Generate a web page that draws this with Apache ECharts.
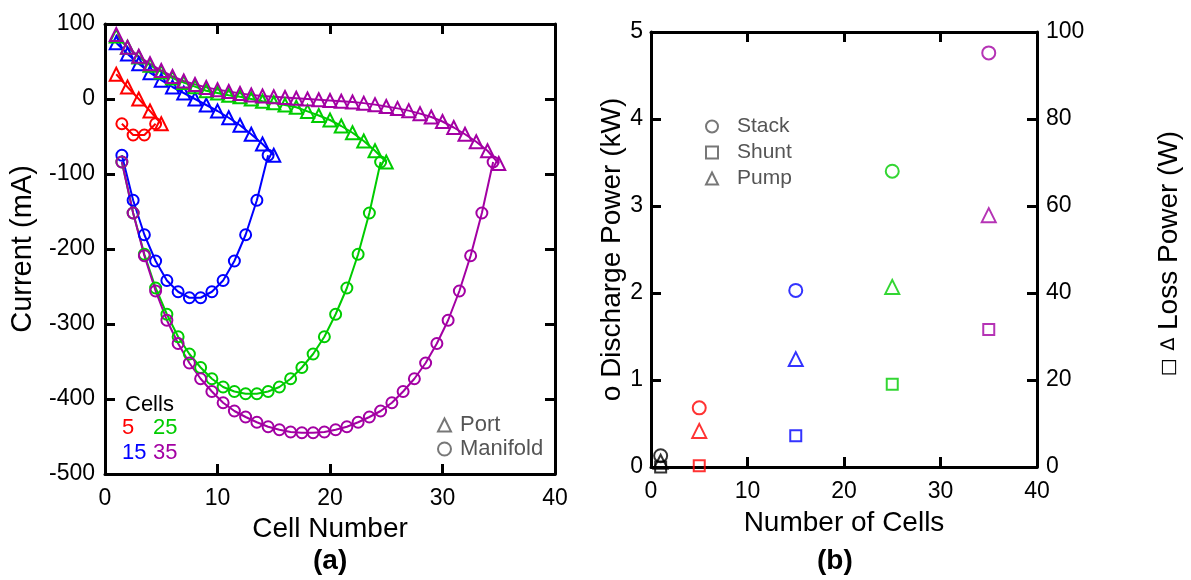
<!DOCTYPE html>
<html>
<head>
<meta charset="utf-8">
<script src="https://cdn.jsdelivr.net/npm/echarts@6/dist/echarts.min.js"></script>
<style>
html,body{margin:0;padding:0;background:#fff;}
#chart{width:1191px;height:580px;}
</style>
</head>
<body>
<div id="chart"></div>
<script>
// ---------- Data: panel (a) currents (mA) ----------
// Port currents at cells 1..N, manifold currents between cells (1.5 .. N-0.5)
const portRed = [33, 16, 0, -16, -33];
const manifoldRed = [-33, -48, -48, -33];
const portBlue = [75, 60, 47, 35, 25, 16, 8, 0, -8, -16, -25, -35, -47, -60, -75];
const manifoldBlue = [-75, -135, -181, -216, -242, -257, -265, -265, -257, -242, -216, -181, -135, -75];
const portGreen = [84, 69, 56, 45, 36, 28, 22, 16.5, 11, 8, 5, 3, 0, -3, -5, -8, -11, -16.5, -22, -28, -36, -45, -56, -69, -84];
const manifoldGreen = [-84, -152, -207, -252, -287, -317, -340, -358, -373, -384, -390, -393, -393, -390, -384, -373, -358, -340, -317, -287, -252, -207, -152, -84];
const portMagenta = [86, 69, 57, 47, 38, 30, 24, 19.5, 15.5, 12.5, 10, 7.5, 5.5, 4, 3, 2, 1, 0, -1, -2, -3, -4, -5.5, -7.5, -10, -12.5, -15.5, -19.5, -24, -30, -38, -47, -57, -69, -86];
const manifoldMagenta = [-84, -152, -209, -256, -295, -326, -352, -373, -390, -405, -416, -424, -431, -437, -441, -444, -445, -445, -444, -441, -437, -431, -424, -416, -405, -390, -373, -352, -326, -295, -256, -209, -152, -84];
const cellCountLabels = ['5', '15', '25', '35'];

// ---------- Data: panel (b) powers ----------
const numberOfCells = [1, 5, 15, 25, 35];
const stackPowerKW = [0.13, 0.68, 2.03, 3.40, 4.76];
const shuntLossW = [0.0, 0.3, 7.2, 19.0, 31.6];
const pumpLossW = [1.2, 8.3, 24.8, 41.4, 57.9];

// ---------- Styles ----------
const FONT = '"Liberation Sans", Arial, Helvetica, sans-serif';
const C_RED = '#ff0000', C_BLUE = '#0000ff', C_GREEN = '#00cc00', C_MAG = '#a300a3', C_BLACK = '#000000';
const pointColors = [C_BLACK, C_RED, C_BLUE, C_GREEN, C_MAG];
const GRAY = '#555555';

const portPts = arr => arr.map((v, i) => [i + 1, v]);
const manPts = arr => arr.map((v, i) => [i + 1.5, v]);

function lineSeries(name, data, color, symbol, size) {
  return {
    name: name, type: 'line', xAxisIndex: 0, yAxisIndex: 0,
    data: data, symbol: symbol, symbolSize: size, showAllSymbol: true,
    lineStyle: { color: color, width: 2 },
    itemStyle: { color: 'rgba(0,0,0,0)', borderColor: color, borderWidth: 2 },
    emphasis: { disabled: true }, animation: false, z: 3
  };
}
function scatterSeries(name, xs, ys, symbol, size, yAxisIndex) {
  return {
    name: name, type: 'scatter', xAxisIndex: 2, yAxisIndex: yAxisIndex,
    symbol: symbol, symbolSize: size,
    data: xs.map((x, i) => ({ value: [x, ys[i]], itemStyle: { color: 'rgba(0,0,0,0)', borderColor: pointColors[i], borderWidth: 2 } })),
    itemStyle: { color: 'rgba(0,0,0,0)', borderColor: GRAY, borderWidth: 2 },
    emphasis: { disabled: true }, animation: false
  };
}
function dummy(name, symbol) {
  return { name: name, type: 'scatter', xAxisIndex: 0, yAxisIndex: 0, data: [], symbol: symbol,
    itemStyle: { color: 'rgba(0,0,0,0)', borderColor: GRAY, borderWidth: 2 } };
}

const axisLine = { show: true, onZero: false, lineStyle: { color: '#000', width: 3 } };
const axisTick = { show: true, inside: true, length: 10, lineStyle: { color: '#000', width: 3 } };
const tickLabel = { color: '#000', fontSize: 23, fontFamily: FONT };
const titleStyle = { color: '#000', fontSize: 28, fontFamily: FONT };

const option = {
  backgroundColor: '#fff',
  animation: false,
  grid: [
    { left: 105, top: 24, width: 450, height: 450 },
    { left: 651, top: 32, width: 386, height: 435 }
  ],
  xAxis: [
    { gridIndex: 0, type: 'value', min: 0, max: 40, interval: 10, position: 'bottom',
      name: 'Cell Number', nameLocation: 'middle', nameGap: 41, nameTextStyle: titleStyle,
      axisLine: axisLine, axisTick: axisTick, axisLabel: Object.assign({ margin: 13 }, tickLabel), splitLine: { show: false } },
    { gridIndex: 0, type: 'value', min: 0, max: 40, interval: 10, position: 'top',
      axisLine: axisLine, axisTick: axisTick, axisLabel: { show: false }, splitLine: { show: false } },
    { gridIndex: 1, type: 'value', min: 0, max: 40, interval: 10, position: 'bottom',
      name: 'Number of Cells', nameLocation: 'middle', nameGap: 42, nameTextStyle: titleStyle,
      axisLine: axisLine, axisTick: axisTick, axisLabel: Object.assign({ margin: 13 }, tickLabel), splitLine: { show: false } },
    { gridIndex: 1, type: 'value', min: 0, max: 40, interval: 10, position: 'top',
      axisLine: axisLine, axisTick: axisTick, axisLabel: { show: false }, splitLine: { show: false } }
  ],
  yAxis: [
    { gridIndex: 0, type: 'value', min: -500, max: 100, interval: 100, position: 'left',
      name: 'Current (mA)', nameLocation: 'middle', nameGap: 68, nameRotate: 90,
      nameTextStyle: Object.assign({}, titleStyle, { fontSize: 29 }),
      axisLine: axisLine, axisTick: axisTick, axisLabel: Object.assign({ margin: 10 }, tickLabel), splitLine: { show: false } },
    { gridIndex: 0, type: 'value', min: -500, max: 100, interval: 100, position: 'right',
      axisLine: axisLine, axisTick: axisTick, axisLabel: { show: false }, splitLine: { show: false } },
    { gridIndex: 1, type: 'value', min: 0, max: 5, interval: 1, position: 'left',
      name: 'o Discharge Power (kW)', nameLocation: 'middle', nameGap: 24, nameRotate: 90, nameTextStyle: titleStyle,
      axisLine: axisLine, axisTick: axisTick, axisLabel: Object.assign({ margin: 8 }, tickLabel), splitLine: { show: false } },
    { gridIndex: 1, type: 'value', min: 0, max: 100, interval: 20, position: 'right',
      name: '{s|\u25A1} {s|\u2206} Loss Power (W)', nameLocation: 'middle', nameGap: 118, nameRotate: 90,
      nameTextStyle: Object.assign({ padding: [0, 8, 0, 0], rich: { s: { fontSize: 19, fontFamily: '"DejaVu Sans", sans-serif', color: '#000' } } }, titleStyle),
      axisLine: axisLine, axisTick: axisTick, axisLabel: Object.assign({ margin: 9 }, tickLabel), splitLine: { show: false } }
  ],
  legend: [
    { left: 432, top: 409, orient: 'vertical', itemGap: 2, itemWidth: 13, itemHeight: 13,
      textStyle: { fontSize: 22, color: GRAY, fontFamily: FONT, padding: [0, 0, 0, 4] },
      itemStyle: { color: 'rgba(0,0,0,0)', borderColor: GRAY, borderWidth: 2 },
      selectedMode: false,
      data: [{ name: 'Port', icon: 'triangle' }, { name: 'Manifold', icon: 'circle' }] },
    { left: 700, top: 111, orient: 'vertical', itemGap: 5, itemWidth: 12, itemHeight: 12,
      textStyle: { fontSize: 21, color: GRAY, fontFamily: FONT, padding: [0, 0, 0, 14] },
      itemStyle: { color: 'rgba(0,0,0,0)', borderColor: GRAY, borderWidth: 2 },
      selectedMode: false,
      data: [{ name: 'Stack', icon: 'circle' }, { name: 'Shunt', icon: 'rect' }, { name: 'Pump', icon: 'triangle' }] }
  ],
  graphic: [
    { type: 'text', left: 125, top: 394, style: { text: 'Cells', fill: '#000', font: '22px ' + FONT } },
    { type: 'text', left: 122, top: 417, style: { text: cellCountLabels[0], fill: C_RED, font: '22px ' + FONT } },
    { type: 'text', left: 153, top: 417, style: { text: cellCountLabels[2], fill: C_GREEN, font: '22px ' + FONT } },
    { type: 'text', left: 122, top: 442, style: { text: cellCountLabels[1], fill: C_BLUE, font: '22px ' + FONT } },
    { type: 'text', left: 153, top: 442, style: { text: cellCountLabels[3], fill: C_MAG, font: '22px ' + FONT } },
    { type: 'text', left: 313, top: 547, style: { text: '(a)', fill: '#000', font: 'bold 28px ' + FONT } },
    { type: 'text', left: 817, top: 547, style: { text: '(b)', fill: '#000', font: 'bold 28px ' + FONT } }
  ],
  series: [
    dummy('Port', 'triangle'),
    dummy('Manifold', 'circle'),
    lineSeries('m5', manPts(manifoldRed), C_RED, 'circle', 11),
    lineSeries('p5', portPts(portRed), C_RED, 'triangle', 13),
    lineSeries('m15', manPts(manifoldBlue), C_BLUE, 'circle', 11),
    lineSeries('p15', portPts(portBlue), C_BLUE, 'triangle', 13),
    lineSeries('m25', manPts(manifoldGreen), C_GREEN, 'circle', 11),
    lineSeries('p25', portPts(portGreen), C_GREEN, 'triangle', 13),
    lineSeries('m35', manPts(manifoldMagenta), C_MAG, 'circle', 11),
    lineSeries('p35', portPts(portMagenta), C_MAG, 'triangle', 13),
    scatterSeries('Stack', numberOfCells, stackPowerKW, 'circle', 13, 2),
    scatterSeries('Shunt', numberOfCells, shuntLossW, 'rect', 11, 3),
    scatterSeries('Pump', numberOfCells, pumpLossW, 'triangle', 14, 3)
  ]
};

const chart = echarts.init(document.getElementById('chart'), null, { renderer: 'canvas' });
chart.setOption(option);
</script>
</body>
</html>
